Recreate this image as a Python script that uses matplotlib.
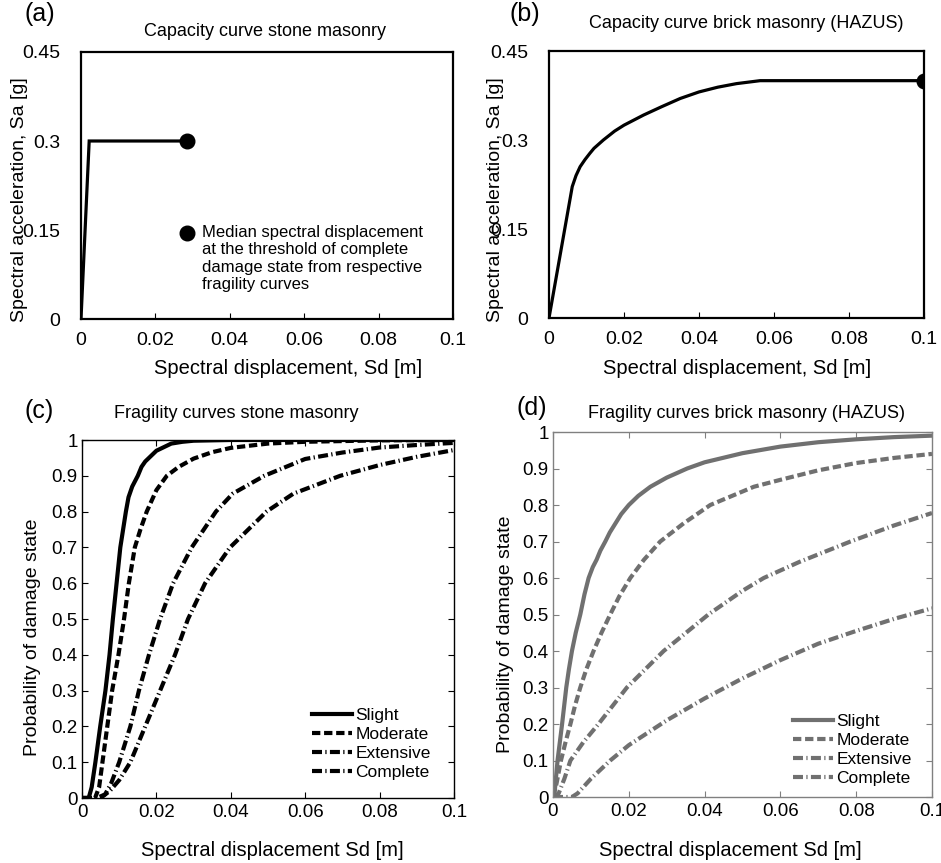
import numpy as np
import matplotlib
matplotlib.use('Agg')
import matplotlib.pyplot as plt

plt.rcParams['font.family'] = ['Liberation Sans', 'DejaVu Sans']

W, H = 941, 863

# capacity curve, stone masonry (bilinear)
stone_sd = [0.0, 0.0022, 0.0285]
stone_sa = [0.0, 0.30, 0.30]
stone_median_sd = 0.0285

# capacity curve, brick masonry (HAZUS)
brick_sd = [0.0, 0.0062, 0.0072, 0.0083, 0.0096, 0.0109, 0.012, 0.0145, 0.0175, 0.020, 0.0252, 0.030,
            0.035, 0.040, 0.045, 0.050, 0.0563, 0.060, 0.100]
brick_sa = [0.0, 0.2215, 0.240, 0.255, 0.267, 0.2776, 0.286, 0.300, 0.315, 0.325, 0.342, 0.356,
            0.370, 0.381, 0.389, 0.395, 0.400, 0.400, 0.400]
brick_median_sd = 0.100

# fragility curves, stone masonry
sl_sd = [0, 0.0018, 0.0026, 0.0036, 0.0049, 0.0063, 0.0074, 0.0083, 0.0093, 0.0103, 0.0118, 0.0125,
         0.0135, 0.015, 0.016, 0.017, 0.0185, 0.020, 0.022, 0.024, 0.027, 0.030, 0.040, 0.100]
sl_p = [0, 0, 0.03, 0.10, 0.20, 0.30, 0.40, 0.50, 0.60, 0.70, 0.80, 0.84,
        0.87, 0.90, 0.925, 0.94, 0.955, 0.97, 0.98, 0.99, 0.995, 0.998, 1.0, 1.0]
mo_sd = [0, 0.0035, 0.0046, 0.0055, 0.0068, 0.0081, 0.0098, 0.0113, 0.0126, 0.0142, 0.0157, 0.0174,
         0.020, 0.0228, 0.026, 0.030, 0.035, 0.040, 0.050, 0.060, 0.080, 0.100]
mo_p = [0, 0, 0.03, 0.10, 0.20, 0.30, 0.40, 0.50, 0.60, 0.70, 0.75, 0.80,
        0.86, 0.90, 0.925, 0.948, 0.966, 0.978, 0.99, 0.995, 0.999, 1.0]
ex_sd = [0, 0.004, 0.0062, 0.0078, 0.010, 0.013, 0.0153, 0.018, 0.021, 0.0245, 0.0295, 0.036,
         0.0405, 0.049, 0.060, 0.070, 0.080, 0.090, 0.100]
ex_p = [0, 0, 0.01, 0.04, 0.10, 0.20, 0.30, 0.40, 0.50, 0.60, 0.70, 0.80,
        0.85, 0.90, 0.947, 0.965, 0.979, 0.986, 0.992]
co_sd = [0, 0.005, 0.0075, 0.010, 0.013, 0.017, 0.021, 0.025, 0.0285, 0.0331, 0.0398, 0.0496,
         0.0568, 0.0694, 0.080, 0.090, 0.100]
co_p = [0, 0, 0.02, 0.05, 0.10, 0.20, 0.30, 0.40, 0.50, 0.60, 0.70, 0.80,
        0.85, 0.90, 0.93, 0.953, 0.972]

# fragility curves, brick masonry (HAZUS)
hsl_sd = [0, 0.0005, 0.0012, 0.0024, 0.0035, 0.0042, 0.005, 0.006, 0.0072, 0.0083, 0.0094, 0.0105,
          0.0115, 0.0125, 0.0138, 0.015, 0.0165, 0.018, 0.020, 0.0225, 0.0257, 0.030, 0.0354, 0.040,
          0.050, 0.060, 0.070, 0.080, 0.090, 0.100]
hsl_p = [0, 0.02, 0.10, 0.20, 0.30, 0.35, 0.40, 0.45, 0.50, 0.555, 0.60, 0.63,
         0.65, 0.675, 0.70, 0.725, 0.75, 0.775, 0.80, 0.825, 0.85, 0.875, 0.90, 0.917,
         0.942, 0.96, 0.972, 0.98, 0.986, 0.99]
hmo_sd = [0, 0.0008, 0.0021, 0.0033, 0.0046, 0.0058, 0.0072, 0.0088, 0.0107, 0.0128, 0.0151, 0.0175,
          0.0204, 0.024, 0.0283, 0.0345, 0.0415, 0.053, 0.060, 0.070, 0.080, 0.090, 0.100]
hmo_p = [0, 0.03, 0.10, 0.15, 0.20, 0.25, 0.30, 0.35, 0.40, 0.45, 0.50, 0.55,
         0.60, 0.65, 0.70, 0.75, 0.80, 0.85, 0.869, 0.895, 0.915, 0.929, 0.94]
hex_sd = [0, 0.0015, 0.003, 0.0046, 0.008, 0.012, 0.0195, 0.0292, 0.041, 0.050, 0.0556, 0.065,
          0.0785, 0.090, 0.100]
hex_p = [0, 0.01, 0.05, 0.10, 0.15, 0.20, 0.30, 0.40, 0.50, 0.565, 0.60, 0.644,
         0.70, 0.744, 0.778]
hco_sd = [0, 0.005, 0.0065, 0.010, 0.0151, 0.020, 0.030, 0.040, 0.050, 0.060, 0.070, 0.080, 0.090, 0.100]
hco_p = [0, 0, 0.01, 0.05, 0.10, 0.142, 0.21, 0.27, 0.325, 0.375, 0.42, 0.455, 0.488, 0.517]

states = ['Slight', 'Moderate', 'Extensive', 'Complete']
sd_ticks = [0, 0.02, 0.04, 0.06, 0.08, 0.1]
sd_ticklabels = ['0', '0.02', '0.04', '0.06', '0.08', '0.1']
sa_ticks = [0, 0.15, 0.3, 0.45]
sa_ticklabels = ['0', '0.15', '0.3', '0.45']
p_ticks = [0, 0.1, 0.2, 0.3, 0.4, 0.5, 0.6, 0.7, 0.8, 0.9, 1.0]
p_ticklabels = ['0', '0.1', '0.2', '0.3', '0.4', '0.5', '0.6', '0.7', '0.8', '0.9', '1']


def fx(px):
    return px / W


def fy(py):
    return 1 - py / H


def box(l, t, r, b):
    return [fx(l), fy(b), fx(r) - fx(l), (b - t) / H]


fig = plt.figure(figsize=(W / 100, H / 100), dpi=100)

# ---- capacity curves (top row)
def capacity_axes(rect, sd, sa, med, title, tpos, ypos, xpos, letter, lpos):
    ax = fig.add_axes(rect)
    ax.plot(sd, sa, color='black', lw=2.3, solid_joinstyle='miter')
    ax.plot([med], [sa[-1]], 'o', color='black', ms=10.5)
    ax.set_xlim(0, 0.1)
    ax.set_ylim(0, 0.45)
    ax.set_xticks(sd_ticks)
    ax.set_xticklabels(sd_ticklabels)
    ax.set_yticks(sa_ticks)
    ax.set_yticklabels(sa_ticklabels)
    ax.tick_params(axis='x', direction='in', length=4, width=0.8, labelsize=14, pad=9)
    ax.tick_params(axis='y', direction='in', length=0, labelsize=14, pad=15)
    for s in ax.spines.values():
        s.set_linewidth(1.6)
    fig.text(fx(tpos[0]), fy(tpos[1]), title, ha='center', va='center', fontsize=13)
    fig.text(fx(ypos[0]), fy(ypos[1]), 'Spectral acceleration, Sa [g]', ha='center', va='center',
             rotation=90, fontsize=14)
    fig.text(fx(xpos[0]), fy(xpos[1]), 'Spectral displacement, Sd [m]', ha='center', va='center',
             fontsize=14.5)
    fig.text(fx(lpos[0]), fy(lpos[1]), letter, ha='left', va='center', fontsize=18)
    return ax


ax1 = capacity_axes(box(81, 52, 453, 319), stone_sd, stone_sa, stone_median_sd,
                    'Capacity curve stone masonry', (265, 31), (20, 200), (288, 368), '(a)', (24, 14))
ax1.plot([stone_median_sd], [0.145], 'o', color='black', ms=10.5)
ax1.text(0.0324, 0.1585, 'Median spectral displacement\nat the threshold of complete\n'
         'damage state from respective\nfragility curves',
         ha='left', va='top', fontsize=12, linespacing=1.2)

capacity_axes(box(549, 51, 924, 318), brick_sd, brick_sa, brick_median_sd,
              'Capacity curve brick masonry (HAZUS)', (746, 23), (495, 200), (737, 368), '(b)', (510, 14))

# ---- fragility curves (bottom row)
styles = [dict(ls='-'),
          dict(ls=(0, (2.0, 0.9))),
          dict(ls=(0, (2.4, 0.8, 0.3, 0.8))),
          dict(ls=(0, (2.4, 0.8, 0.3, 0.8)))]


def fragility_axes(rect, curves, color, spine_color, title, tpos, ypos, xpos, letter, lpos, leg_anchor):
    ax = fig.add_axes(rect)
    for (sd, p), name, st in zip(curves, states, styles):
        ax.plot(sd, p, color=color, lw=3.0, label=name, **st)
    ax.set_xlim(0, 0.1)
    ax.set_ylim(0, 1)
    ax.set_xticks(sd_ticks)
    ax.set_xticklabels(sd_ticklabels)
    ax.set_yticks(p_ticks)
    ax.set_yticklabels(p_ticklabels)
    ax.tick_params(direction='in', length=4, width=0.8, labelsize=13.5, top=True, right=True,
                   color=spine_color)
    ax.tick_params(axis='x', pad=4)
    ax.tick_params(axis='y', pad=3)
    for s in ax.spines.values():
        s.set_linewidth(1.0)
        s.set_color(spine_color)
    ax.legend(loc='lower left', bbox_to_anchor=leg_anchor, frameon=False, fontsize=12.5,
              handlelength=2.3, handletextpad=0.2, labelspacing=0.22, borderpad=0,
              borderaxespad=0)
    fig.text(fx(tpos[0]), fy(tpos[1]), title, ha='center', va='center', fontsize=13)
    fig.text(fx(ypos[0]), fy(ypos[1]), 'Probability of damage state', ha='center', va='center',
             rotation=90, fontsize=14)
    fig.text(fx(xpos[0]), fy(xpos[1]), 'Spectral displacement Sd [m]', ha='center', va='center',
             fontsize=14.5)
    fig.text(fx(lpos[0]), fy(lpos[1]), letter, ha='left', va='center', fontsize=18)
    return ax


fragility_axes(box(82, 440, 454, 798),
               [(sl_sd, sl_p), (mo_sd, mo_p), (ex_sd, ex_p), (co_sd, co_p)],
               'black', 'black', 'Fragility curves stone masonry', (236, 413), (33, 637), (272, 850),
               '(c)', (25, 411), (0.618, 0.05))
fragility_axes(box(553, 432, 932, 797),
               [(hsl_sd, hsl_p), (hmo_sd, hmo_p), (hex_sd, hex_p), (hco_sd, hco_p)],
               '#707070', '#808080', 'Fragility curves brick masonry (HAZUS)', (746, 413), (505, 634),
               (730, 850), '(d)', (516, 408), (0.633, 0.03))

fig.savefig('out.png', dpi=100)
